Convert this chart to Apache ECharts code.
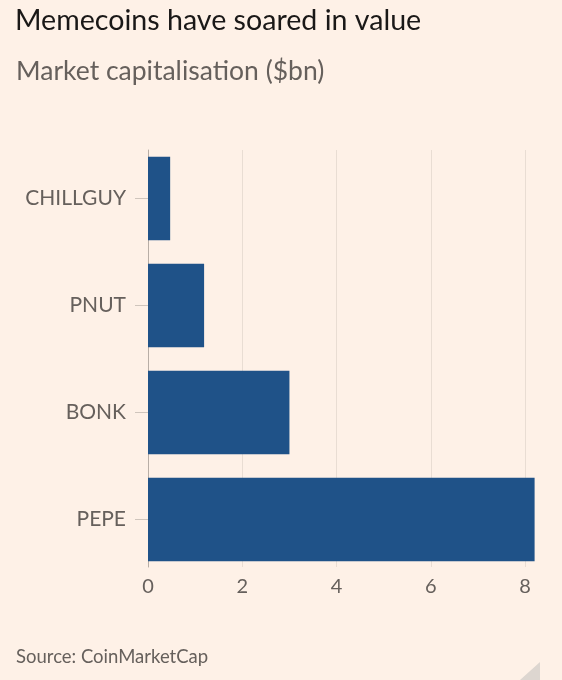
<!DOCTYPE html>
<html>
<head>
<meta charset="utf-8">
<script src="https://cdn.jsdelivr.net/npm/echarts@6/dist/echarts.min.js"></script>
<style>
html,body{margin:0;padding:0;background:#FEF1E7;}
#c{width:562px;height:680px;}
</style>
</head>
<body>
<div id="c"></div>
<script>
const categories = ['CHILLGUY', 'PNUT', 'BONK', 'PEPE'];
const marketCap = [0.47, 1.19, 3.0, 8.2];
const xTicks = [0, 2, 4, 6, 8];

const FONT = 'Lato';
const chart = echarts.init(document.getElementById('c'), null, {renderer: 'canvas'});
chart.setOption({
  backgroundColor: '#FEF1E7',
  animation: false,
  title: [
    {text: 'Memecoins have soared in value', left: 10, top: 1,
     textStyle: {fontFamily: FONT, fontSize: 28.6, fontWeight: 'normal', color: '#1a1817'}},
    {text: 'Market capitalisation ($bn)', left: 11, top: 53,
     textStyle: {fontFamily: FONT, fontSize: 26.5, fontWeight: 'normal', color: '#66605c'}},
    {text: 'Source: CoinMarketCap', left: 11, top: 643,
     textStyle: {fontFamily: FONT, fontSize: 18.5, fontWeight: 'normal', color: '#66605c'}}
  ],
  graphic: [
    {type: 'polygon', shape: {points: [[520, 680], [540, 662], [540, 680]]},
     style: {fill: '#ddd6d0'}}
  ],
  grid: [
    {left: 148, width: 386.6, top: 145, height: 428},
    {left: 148, width: 386.6, top: 150, height: 417}
  ],
  xAxis: [
    {gridIndex: 0, type: 'value', min: 0, max: 8.2, show: false},
    {gridIndex: 1, type: 'value', min: 0, max: 8.2, interval: 2,
     axisLine: {show: false}, axisTick: {show: false},
     splitLine: {show: true, showMaxLine: false, lineStyle: {color: '#e9ddd3', width: 1}},
     axisLabel: {showMaxLabel: false, margin: 10, fontFamily: FONT, fontSize: 20, color: '#66605c',
       formatter: v => (xTicks.indexOf(v) >= 0 ? String(v) : '')}}
  ],
  yAxis: [
    {gridIndex: 0, type: 'category', data: categories, inverse: true,
     axisLine: {show: false},
     axisTick: {show: true, alignWithLabel: true, length: 13, lineStyle: {color: '#cfc5bc'}},
     splitLine: {show: false},
     axisLabel: {margin: 22, fontFamily: FONT, fontSize: 21, color: '#66605c'}},
    {gridIndex: 1, type: 'value', min: 0, max: 1,
     axisLine: {show: true, lineStyle: {color: '#b8aea6', width: 1}},
     axisTick: {show: false}, axisLabel: {show: false}, splitLine: {show: false}}
  ],
  series: [
    {type: 'bar', xAxisIndex: 0, yAxisIndex: 0, data: marketCap, barWidth: 83.3,
     itemStyle: {color: '#1f5288'}}
  ]
});
</script>
</body>
</html>
